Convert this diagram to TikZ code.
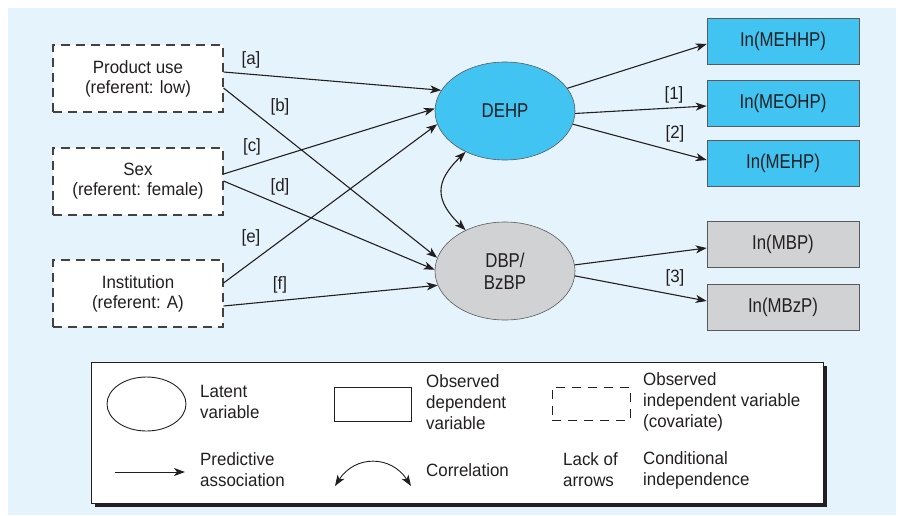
\documentclass[tikz,border=0pt]{standalone}
\usepackage{fontspec}
\setmainfont{Liberation Sans}
\newfontfamily\smallf{Liberation Sans}[FakeStretch=0.95]
\newfontfamily\bigf{Liberation Sans}[FakeStretch=0.84]
\usetikzlibrary{arrows.meta,shapes.geometric,calc}
\definecolor{bgblue}{HTML}{E5F4FC}
\definecolor{cyanfill}{HTML}{41C4F2}
\definecolor{grayfill}{HTML}{D1D2D4}
\definecolor{ink}{HTML}{231F20}
\definecolor{edge}{HTML}{5A5A5A}
\tikzset{
  stxt/.style={font=\smallf\fontsize{17.8}{20}\selectfont, text=ink, align=center, inner sep=0pt},
  btxt/.style={font=\bigf\fontsize{20}{22}\selectfont, text=ink, align=center, inner sep=0pt},
  covbox/.style={stxt, draw=ink!85, line width=1.1pt, dash pattern=on 9pt off 6pt, fill=white, minimum width=170pt, minimum height=67pt},
  latent/.style={btxt, ellipse, draw=edge, line width=0.6pt, minimum width=140pt, minimum height=98pt},
  obsbox/.style={btxt, rectangle, draw=edge, line width=0.6pt, minimum width=152pt, minimum height=46pt},
  arr/.style={draw=ink, line width=1.1pt, -{Stealth[length=11pt,width=8pt,inset=3pt]}},
  darr/.style={draw=ink, line width=1.1pt, {Stealth[length=11pt,width=8pt,inset=3pt]}-{Stealth[length=11pt,width=8pt,inset=3pt]}},
  lbl/.style={stxt},
  legtxt/.style={font=\smallf\fontsize{17.8}{21}\selectfont, text=ink, align=left, inner sep=0pt, anchor=west},
}
\begin{document}
\begin{tikzpicture}[x=1pt,y=-1pt]
\useasboundingbox (0,0) rectangle (898,515);
\fill[bgblue] (8,8) rectangle (896,515);

% covariates
\node[covbox] (pu) at (138,78.5) {Product use\\(referent: low)};
\node[covbox] (sex) at (138,181.5) {Sex\\(referent: female)};
\node[covbox] (inst) at (138,293.5) {Institution\\(referent: A)};

% latent
\node[latent, fill=cyanfill] (dehp) at (505,111) {DEHP};
\node[latent, fill=grayfill] (dbp) at (505,271) {DBP/\\BzBP};

% observed
\node[obsbox, fill=cyanfill] (mehhp) at (783,41) {In(MEHHP)};
\node[obsbox, fill=cyanfill] (meohp) at (783,103) {In(MEOHP)};
\node[obsbox, fill=cyanfill] (mehp) at (783,163) {In(MEHP)};
\node[obsbox, fill=grayfill] (mbp) at (783,244.5) {In(MBP)};
\node[obsbox, fill=grayfill] (mbzp) at (783,307) {In(MBzP)};

% left arrows
\draw[arr] ([yshift=6.5pt]pu.east) -- (dehp.162);
\draw[arr] ([yshift=-9.5pt]pu.east) -- (dbp.169);
\draw[arr] ([yshift=7.5pt]sex.east) -- (dehp.178);
\draw[arr] ([yshift=0.5pt]sex.east) -- (dbp.179);
\draw[arr] ([yshift=10.5pt]inst.east) -- (dehp.191);
\draw[arr] ([yshift=-12.5pt]inst.east) -- (dbp.192);

% right arrows
\draw[arr] (dehp.20) -- ([yshift=-3pt]mehhp.west);
\draw[arr] (dehp.358) -- ([yshift=-3pt]meohp.west);
\draw[arr] (dehp.349) -- ([yshift=3pt]mehp.west);
\draw[arr] (dbp.5) -- ([yshift=-3.5pt]mbp.west);
\draw[arr] (dbp.356) -- ([yshift=6pt]mbzp.west);

% correlation
\draw[darr] (dehp.226) .. controls ($(dehp.226)+(-31,30)$) and ($(dbp.134)+(-31,-30)$) .. (dbp.134);

% labels
\node[lbl] (la) at (251,60) {[a]};
\node[lbl] (lb) at (280,107) {[b]};
\node[lbl] (lc) at (252,147) {[c]};
\node[lbl] (ld) at (280,187) {[d]};
\node[lbl] (le) at (251,238) {[e]};
\node[lbl] (lf) at (280,285) {[f]};
\node[lbl] (l1) at (674,95) {[1]};
\node[lbl] (l2) at (675,134) {[2]};
\node[lbl] (l3) at (675,278) {[3]};

% legend
\fill[ink] (95,366) rectangle (827,507);
\node[draw=ink, line width=0.8pt, fill=white, minimum width=732pt, minimum height=141pt, inner sep=0pt] (legend) at (457,432.5) {};

\node[ellipse, draw=ink, line width=0.9pt, minimum width=79pt, minimum height=54pt] (legell) at (146.5,404) {};
\node[legtxt] (t1) at (200,402) {Latent\\variable};
\coordinate (pa1) at (115,472);
\coordinate (pa2) at (185,472);
\draw[arr, line width=0.9pt] (pa1) -- (pa2);
\node[legtxt] (t2) at (200,470) {Predictive\\association};

\node[draw=ink, line width=0.9pt, minimum width=77pt, minimum height=34pt, inner sep=0pt] (legrect) at (372.5,404) {};
\node[legtxt] (t3) at (426,402) {Observed\\dependent\\variable};
\coordinate (ca1) at (335,486);
\coordinate (ca2) at (411,486);
\draw[darr, line width=0.9pt] (ca1) .. controls (355,455) and (391,455) .. (ca2);
\node[legtxt] (t4) at (426,470) {Correlation};

\node[draw=ink, line width=0.9pt, dash pattern=on 9pt off 7pt, minimum width=78pt, minimum height=33pt, inner sep=0pt] (legdash) at (591,403.5) {};
\node[legtxt] (t5) at (643,402) {Observed\\independent variable\\(covariate)};
\node[legtxt] (t6) at (563,470) {Lack of\\arrows};
\node[legtxt] (t7) at (643,470) {Conditional\\independence};
\end{tikzpicture}
\end{document}
